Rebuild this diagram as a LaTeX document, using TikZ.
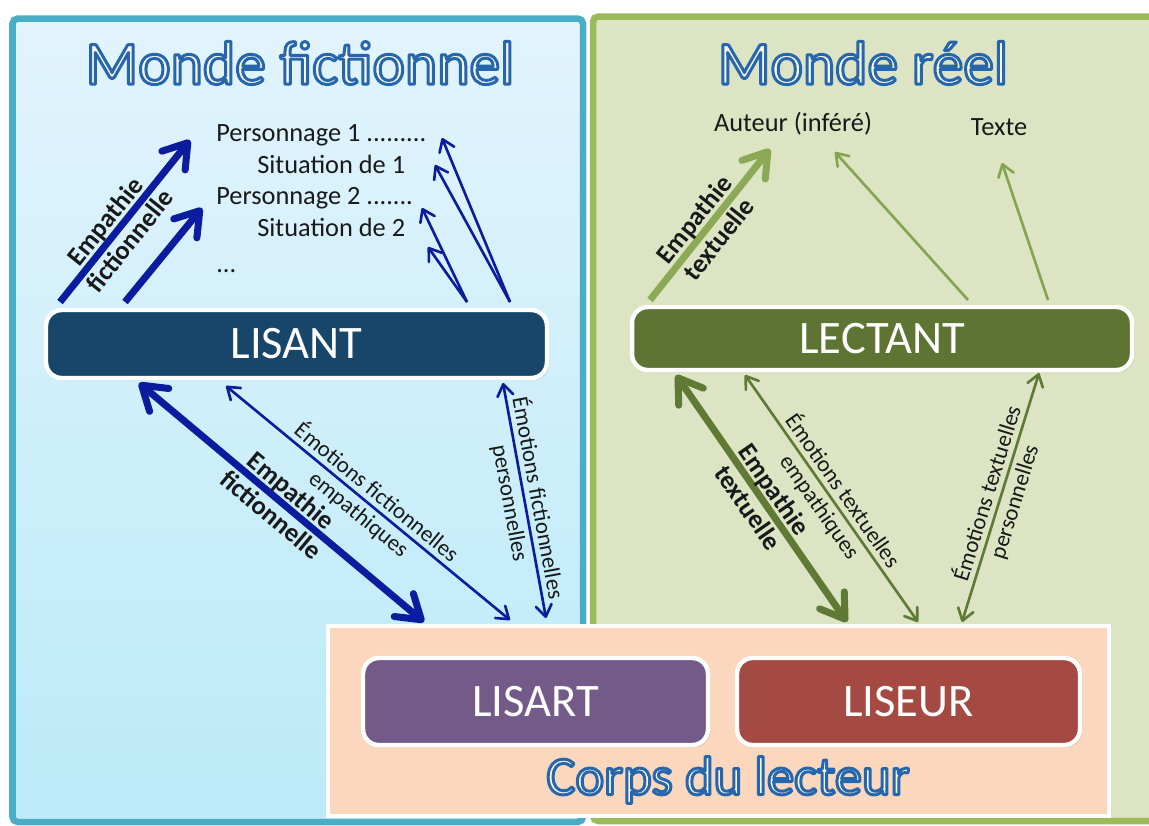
\documentclass[tikz,border=0pt]{standalone}
\usepackage{fontspec}
\setmainfont{Carlito}
\usetikzlibrary{arrows.meta,shadows,calc}
\definecolor{tealb}{RGB}{75,172,198}
\definecolor{greenb}{RGB}{155,187,89}
\definecolor{bluetop}{RGB}{226,244,253}
\definecolor{bluebot}{RGB}{187,234,248}
\definecolor{greenbg}{RGB}{220,228,196}
\definecolor{peach}{RGB}{251,215,190}
\definecolor{lisantc}{RGB}{24,70,107}
\definecolor{lectantc}{RGB}{94,116,50}
\definecolor{lisartc}{RGB}{116,90,136}
\definecolor{liseurc}{RGB}{164,74,66}
\definecolor{arrblue}{RGB}{12,28,158}
\definecolor{arrgreenl}{RGB}{140,170,86}
\definecolor{arrgreen}{RGB}{133,164,80}
\definecolor{arrgreend}{RGB}{95,122,52}
\definecolor{cream}{RGB}{247,245,234}
\definecolor{txt}{RGB}{25,25,25}
% outlined text: cream fill, blue stroke (text render mode 2)
\newcommand\outlined[1]{{\color{cream}\special{pdf:literal direct 0.15 0.40 0.68 RG 1.7 w 1 j 2 Tr}#1\special{pdf:literal direct 0 Tr}}}
\tikzset{
  panel/.style={line width=3.7pt, rounded corners=3pt},
  rbox/.style={draw=white, line width=2.5pt, rounded corners=9pt, text=white,
    font=\fontsize{26.5}{30}\selectfont,
    drop shadow={shadow xshift=1.2pt, shadow yshift=-1.2pt, opacity=0.3}},
  plain/.style={text=txt, font=\fontsize{15}{18}\selectfont, inner sep=0pt},
  thickarr/.style={line width=4pt, -{Straight Barb[length=13pt,width=17pt,round]}},
  thickdbl/.style={line width=4pt, {Straight Barb[length=13pt,width=17pt,round]}-{Straight Barb[length=13pt,width=17pt,round]}},
  thinarr/.style={line width=1.5pt, -{Straight Barb[length=6.5pt,width=9pt,round]}},
  thindbl/.style={line width=1.5pt, {Straight Barb[length=6.5pt,width=9pt,round]}-{Straight Barb[length=6.5pt,width=9pt,round]}},
  blab/.style={sloped, align=center, text=txt, font=\bfseries\fontsize{15}{18}\selectfont, inner sep=0pt},
  nlab/.style={sloped, align=center, text=txt, font=\fontsize{13}{16}\selectfont, inner sep=0pt}
}
\begin{document}
\begin{tikzpicture}[x=0.02cm, y=-0.02cm]
\useasboundingbox (0,0) rectangle (1149,825);
\fill[white] (0,0) rectangle (1149,825);
% panels
\draw[panel, draw=greenb, fill=greenbg] (593,16.5) rectangle (1165,821);
\shade[top color=bluetop, bottom color=bluebot, rounded corners=3pt] (12.5,18.5) rectangle (583,822);
\draw[panel, draw=tealb] (12.5,18.5) rectangle (583,822);
% titles
\node[font=\fontsize{35}{40}\selectfont] (tfic) at (300,63) {\outlined{Monde fictionnel}};
\node[font=\fontsize{35}{40}\selectfont] (treel) at (863,63) {\outlined{Monde réel}};
% boxes
\node[rbox, fill=lisantc, minimum width=10.02cm, minimum height=1.36cm] (lisant) at (296.5,344) {LISANT};
\node[rbox, fill=lectantc, minimum width=10.0cm, minimum height=1.26cm] (lectant) at (882,338.5) {LECTANT};
\node[draw=white, line width=2.3pt, fill=peach, minimum width=15.62cm, minimum height=3.8cm,
  drop shadow={shadow xshift=1.2pt, shadow yshift=-1.2pt, opacity=0.3}] (corps) at (718.5,721) {};
\node[rbox, fill=lisartc, minimum width=6.9cm, minimum height=1.74cm] (lisart) at (535.5,701.5) {LISART};
\node[rbox, fill=liseurc, minimum width=6.86cm, minimum height=1.74cm] (liseur) at (908.5,701.5) {LISEUR};
\node[font=\fontsize{31}{36}\selectfont] (tcorps) at (728,780) {\outlined{Corps du lecteur}};
% texts
\node[plain, anchor=base west] (p1) at (216,141) {Personnage 1 .........};
\node[plain, anchor=base west] (s1) at (257,173) {Situation de 1};
\node[plain, anchor=base west] (p2) at (216,204) {Personnage 2 .......};
\node[plain, anchor=base west] (s2) at (257,236) {Situation de 2};
\node[plain, anchor=base west] (dots) at (216,272) {...};
\node[plain, anchor=base] (auteur) at (793,131) {Auteur (inféré)};
\node[plain, anchor=base] (texte) at (999,135) {Texte};
% arrow end points
\coordinate (ua1s) at (60,302);   \coordinate (ua1e) at (190,140);
\coordinate (ua2s) at (125,302);  \coordinate (ua2e) at (202,208);
\coordinate (ubR) at (510,302);   \coordinate (ubL) at (467,302);
\coordinate (ub1e) at (442,138);  \coordinate (ub2e) at (435,165);
\coordinate (ub3e) at (422,208);  \coordinate (ub4e) at (428,247);
\coordinate (la1s) at (139,383);  \coordinate (la1e) at (424,622);
\coordinate (la2s) at (226,386);  \coordinate (la2e) at (510,620);
\coordinate (la3s) at (503,383);  \coordinate (la3e) at (546,618);
\coordinate (ga1s) at (650,300);  \coordinate (ga1e) at (770,149);
\coordinate (ga2s) at (968,300);  \coordinate (ga2e) at (835,152);
\coordinate (ga3s) at (1048,300); \coordinate (ga3e) at (1002,163);
\coordinate (lg1s) at (676,375);  \coordinate (lg1e) at (847,622);
\coordinate (lg2s) at (745,375);  \coordinate (lg2e) at (918,622);
\coordinate (lg3s) at (1039,373); \coordinate (lg3e) at (962,622);
% blue upper
\draw[thickarr, arrblue] (ua1s) -- node[blab, pos=0.44] {Empathie\\fictionnelle} (ua1e);
\draw[thickarr, arrblue] (ua2s) -- (ua2e);
\draw[thinarr, arrblue] (ubR) -- (ub1e);
\draw[thinarr, arrblue] (ubR) -- (ub2e);
\draw[thinarr, arrblue] (ubL) -- (ub3e);
\draw[thinarr, arrblue] (ubL) -- (ub4e);
% blue lower
\draw[thickdbl, arrblue] (la1s) -- node[blab, pos=0.5] {Empathie\\fictionnelle} (la1e);
\draw[thindbl, arrblue] (la2s) -- node[nlab, pos=0.5] {Émotions fictionnelles\\empathiques} (la2e);
\draw[thindbl, arrblue] (la3s) -- node[nlab, pos=0.5] {Émotions fictionnelles\\personnelles} (la3e);
% green upper
\draw[thickarr, arrgreenl] (ga1s) -- node[blab, pos=0.47] {Empathie\\textuelle} (ga1e);
\draw[thinarr, arrgreen] (ga2s) -- (ga2e);
\draw[thinarr, arrgreen] (ga3s) -- (ga3e);
% green lower
\draw[thickdbl, arrgreend] (lg1s) -- node[blab, pos=0.5] {Empathie\\textuelle} (lg1e);
\draw[thindbl, arrgreend] (lg2s) -- node[nlab, pos=0.5] {Émotions textuelles\\empathiques} (lg2e);
\draw[thindbl, arrgreend] (lg3s) -- node[nlab, pos=0.5] {Émotions textuelles\\personnelles} (lg3e);
\end{tikzpicture}
\end{document}
